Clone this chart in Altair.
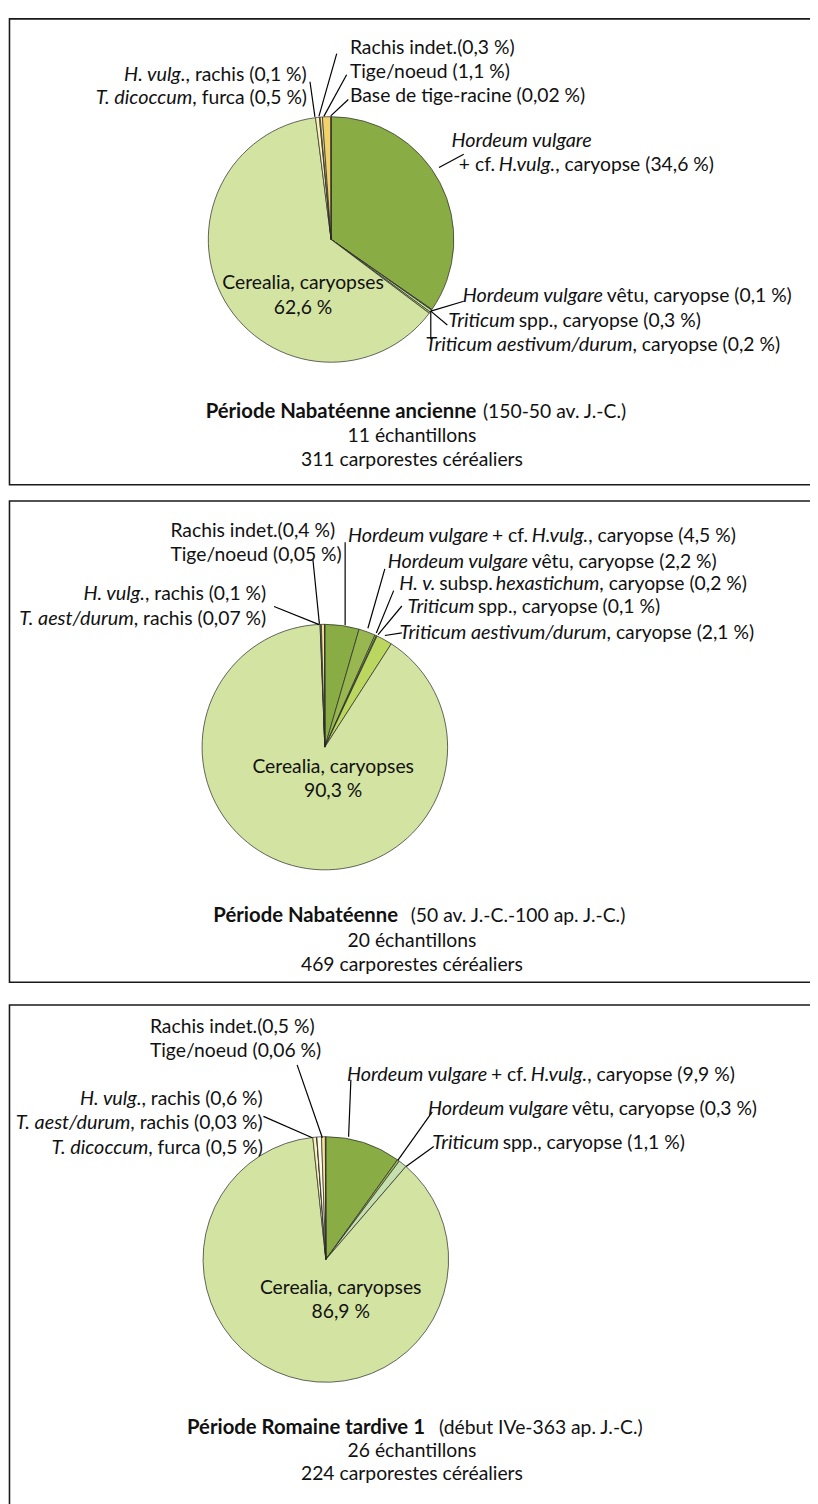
import altair as alt
import pandas as pd

# ---------------- data ----------------
CAT_ORDER = [
    "Hordeum vulgare + cf. H.vulg., caryopse",
    "Hordeum vulgare vêtu, caryopse",
    "H. v. subsp. hexastichum, caryopse",
    "Triticum spp., caryopse",
    "Triticum aestivum/durum, caryopse",
    "Cerealia, caryopses",
    "T. dicoccum, furca",
    "T. aest/durum, rachis",
    "H. vulg., rachis",
    "Rachis indet.",
    "Tige/noeud",
    "Base de tige-racine",
]

P1_CATS = ["Hordeum vulgare + cf. H.vulg., caryopse", "Hordeum vulgare vêtu, caryopse",
           "Triticum spp., caryopse", "Triticum aestivum/durum, caryopse", "Cerealia, caryopses",
           "T. dicoccum, furca", "H. vulg., rachis", "Rachis indet.", "Tige/noeud",
           "Base de tige-racine"]
P1_VALS = [34.6, 0.1, 0.3, 0.2, 62.6, 0.5, 0.1, 0.3, 1.1, 0.02]

P2_CATS = ["Hordeum vulgare + cf. H.vulg., caryopse", "Hordeum vulgare vêtu, caryopse",
           "H. v. subsp. hexastichum, caryopse", "Triticum spp., caryopse",
           "Triticum aestivum/durum, caryopse", "Cerealia, caryopses",
           "T. aest/durum, rachis", "H. vulg., rachis", "Rachis indet.", "Tige/noeud"]
P2_VALS = [4.5, 2.2, 0.2, 0.1, 2.1, 90.3, 0.07, 0.1, 0.4, 0.05]

P3_CATS = ["Hordeum vulgare + cf. H.vulg., caryopse", "Hordeum vulgare vêtu, caryopse",
           "Triticum spp., caryopse", "Cerealia, caryopses", "T. dicoccum, furca",
           "T. aest/durum, rachis", "H. vulg., rachis", "Rachis indet.", "Tige/noeud"]
P3_VALS = [9.9, 0.3, 1.1, 86.9, 0.5, 0.03, 0.6, 0.5, 0.06]

# ---------------- styles ----------------
CAT_COLORS = ["#8aac45", "#98b750", "#a9c85e", "#c6dfae", "#bcd75f", "#d3e3a1",
              "#fcf3b8", "#d9b56c", "#fffbea", "#f6e49a", "#f2d36b", "#c9a650"]

FONT = "Lato"
FS = 19.5      # regular label text
FS_I = 20      # italic label text
FS_B = 20.5    # bold title text
OFF = 8
W, H = 810, 1496
R = 124
MID_GAP = 4.5  # extra room before an italic run inside a label

# approximate advance widths (em) used only to butt text runs together
_W = {' ': .193, '.': .21, ',': .21, '(': .30, ')': .30, '%': .78, '+': .58, '/': .36,
      '-': .34, 'a': .49, 'b': .55, 'c': .46, 'd': .55, 'e': .51, 'f': .31, 'g': .50,
      'h': .55, 'i': .24, 'k': .50, 'l': .24, 'm': .83, 'n': .55, 'o': .55, 'p': .55,
      'r': .36, 's': .42, 't': .34, 'u': .55, 'v': .50, 'x': .48, 'y': .50, 'ê': .51,
      'H': .74, 'T': .57}


def tw(text, italic):
    em = sum(_W.get(ch, .58) for ch in text)
    return em * (0.93 * FS_I if italic else FS)


# ---------------- layout (page pixel coordinates) ----------------
CENTERS = [(334.3, 234.3), (328.0, 747.0), (329.0, 1264.5)]
BOXES = [(9.5, 11.5, 840, 482), (9.5, 498.5, 840, 984.5), (9.5, 1007.5, 840, 1520)]

# simple (single style) texts: (text, style, x, y); n=normal left, b=bold left, c=centered
PLAIN = [
    ("Rachis indet.(0,3 %)", "n", 353.3, 40.5),
    ("Tige/noeud (1,1 %)", "n", 353.3, 65.3),
    ("Base de tige-racine (0,02 %)", "n", 353.3, 89.5),
    ("Cerealia, caryopses", "c", 306.0, 278.5), ("62,6 %", "c", 306.0, 303.3),
    ("Période Nabatéenne ancienne", "b", 207.6, 408.3),
    ("(150-50 av. J.-C.)", "n", 487.7, 408.3),
    ("11 échantillons", "c", 416.0, 432.7),
    ("311 carporestes céréaliers", "c", 416.0, 456.7),
    ("Rachis indet.(0,4 %)", "n", 172.0, 529.0),
    ("Tige/noeud (0,05 %)", "n", 172.0, 552.7),
    ("Cerealia, caryopses", "c", 336.4, 767.3), ("90,3 %", "c", 336.4, 791.7),
    ("Période Nabatéenne", "b", 215.4, 917.7),
    ("(50 av. J.-C.-100 ap. J.-C.)", "n", 414.7, 917.7),
    ("20 échantillons", "c", 416.0, 942.7),
    ("469 carporestes céréaliers", "c", 416.0, 967.3),
    ("Rachis indet.(0,5 %)", "n", 151.3, 1030.0),
    ("Tige/noeud (0,06 %)", "n", 151.3, 1054.0),
    ("Cerealia, caryopses", "c", 344.0, 1293.5), ("86,9 %", "c", 344.0, 1318.0),
    ("Période Romaine tardive 1", "b", 188.8, 1434.3),
    ("(début IVe-363 ap. J.-C.)", "n", 443.4, 1434.3),
    ("26 échantillons", "c", 416.0, 1457.7),
    ("224 carporestes céréaliers", "c", 416.0, 1481.7),
]

# mixed italic/regular labels: (runs, anchor, x, y); anchor 'L' = starts at x, 'R' = ends at x
MIXED = [
    # panel 1
    ([("Hordeum vulgare", "i")], "L", 459.3, 135.0),
    ([("+ cf. ", "n"), ("H.vulg.", "i"), (", caryopse (34,6 %)", "n")], "L", 463.3, 159.3),
    ([("Hordeum vulgare", "i"), (" vêtu, caryopse (0,1 %)", "n")], "L", 470.7, 291.7),
    ([("Triticum", "i"), (" spp., caryopse (0,3 %)", "n")], "L", 453.3, 316.7),
    ([("Triticum aestivum/durum", "i"), (", caryopse (0,2 %)", "n")], "L", 436.7, 340.7),
    ([("H. vulg.", "i"), (", rachis (0,1 %)", "n")], "R", 305.5, 68.3),
    ([("T. dicoccum", "i"), (", furca (0,5 %)", "n")], "R", 305.5, 91.7),
    # panel 2
    ([("Hordeum vulgare", "i"), (" + cf. ", "n"), ("H.vulg.", "i"),
      (", caryopse (4,5 %)", "n")], "L", 354.7, 534.3),
    ([("Hordeum vulgare", "i"), (" vêtu, caryopse (2,2 %)", "n")], "L", 394.9, 560.0),
    ([("H. v.", "i"), (" subsp. ", "n"), ("hexastichum", "i"),
      (", caryopse (0,2 %)", "n")], "L", 405.3, 582.7),
    ([("Triticum", "i"), (" spp., caryopse (0,1 %)", "n")], "L", 412.1, 605.3),
    ([("Triticum aestivum/durum", "i"), (", caryopse (2,1 %)", "n")], "L", 410.5, 631.7),
    ([("H. vulg.", "i"), (", rachis (0,1 %)", "n")], "R", 264.5, 592.7),
    ([("T. aest/durum", "i"), (", rachis (0,07 %)", "n")], "R", 264.5, 617.3),
    # panel 3
    ([("Hordeum vulgare", "i"), (" + cf. ", "n"), ("H.vulg.", "i"),
      (", caryopse (9,9 %)", "n")], "L", 353.7, 1078.3),
    ([("Hordeum vulgare", "i"), (" vêtu, caryopse (0,3 %)", "n")], "L", 435.6, 1112.7),
    ([("Triticum", "i"), (" spp., caryopse (1,1 %)", "n")], "L", 437.1, 1147.3),
    ([("H. vulg.", "i"), (", rachis (0,6 %)", "n")], "R", 261.0, 1102.7),
    ([("T. aest/durum", "i"), (", rachis (0,03 %)", "n")], "R", 261.0, 1126.7),
    ([("T. dicoccum", "i"), (", furca (0,5 %)", "n")], "R", 261.0, 1151.7),
]

# leader lines (page coords)
LEADERS = [
    (313.0, 75.0, 318.0, 110.5), (340.0, 46.7, 322.0, 110.0), (350.0, 68.0, 327.0, 110.0),
    (351.7, 93.0, 334.0, 109.5), (443.3, 161.7, 468.3, 148.3),
    (435.0, 306.7, 468.3, 296.7), (435.0, 306.7, 451.7, 320.7), (435.0, 306.7, 435.0, 335.0),
    (276.7, 605.0, 322.3, 623.3), (316.0, 558.0, 322.5, 622.5), (348.5, 540.0, 348.5, 624.0),
    (388.6, 567.0, 371.5, 627.0), (397.5, 589.0, 380.0, 631.7), (405.8, 604.5, 381.8, 633.3),
    (405.8, 631.7, 388.6, 634.3),
    (300.0, 1068.0, 325.5, 1141.5), (354.3, 1083.0, 352.0, 1140.5),
    (266.0, 1120.0, 315.3, 1141.5), (436.5, 1115.5, 401.7, 1164.5),
    (438.0, 1150.5, 410.0, 1170.5),
]

# ---------------- build text rows ----------------
rows = []
for t, s, x, y in PLAIN:
    rows.append({"t": t, "s": s, "x": x - OFF, "y": y - OFF})

for runs, anchor, x, y in MIXED:
    extra = MID_GAP * sum(1 for k, (t, s) in enumerate(runs) if s == "i" and k > 0)
    total = sum(tw(t, s == "i") for t, s in runs) + extra
    pos = x if anchor == "L" else x - total
    for k, (t, s) in enumerate(runs):
        w = tw(t, s == "i")
        lead = len(t) - len(t.lstrip(" "))
        vis = t.strip(" ")
        if s == "i":
            if k > 0:
                pos += MID_GAP
            # italic runs are right-aligned at their end so they never run into the next run
            end = pos + w - (len(t) - len(t.rstrip(" "))) * _W[' '] * FS
            rows.append({"t": vis, "s": "ir", "x": end - OFF, "y": y - OFF})
        else:
            rows.append({"t": vis, "s": "n", "x": pos + lead * _W[' '] * FS - OFF, "y": y - OFF})
        pos += w

seg_df = pd.DataFrame(rows)

# ---------------- build chart ----------------
color_scale = alt.Scale(domain=CAT_ORDER, range=CAT_COLORS)


def pie(cats, vals, center):
    df = pd.DataFrame({"cat": cats, "v": vals, "ord": list(range(len(cats)))})
    return alt.Chart(df).mark_arc(outerRadius=R, stroke="#262626", strokeWidth=0.7).encode(
        theta=alt.Theta("v:Q", stack=True),
        order=alt.Order("ord:Q"),
        color=alt.Color("cat:N", scale=color_scale, legend=None),
        x=alt.value(center[0] - OFF),
        y=alt.value(center[1] - OFF),
    )


box_df = pd.DataFrame([{"x": b[0] - OFF, "y": b[1] - OFF, "x2": b[2] - OFF, "y2": b[3] - OFF}
                       for b in BOXES])
boxes = alt.Chart(box_df).mark_rect(fill=None, stroke="#1a1a1a", strokeWidth=1.6).encode(
    x=alt.X("x:Q", scale=None, axis=None), x2="x2:Q",
    y=alt.Y("y:Q", scale=None, axis=None), y2="y2:Q")

lead_df = pd.DataFrame([{"x": l[0] - OFF, "y": l[1] - OFF, "x2": l[2] - OFF, "y2": l[3] - OFF}
                        for l in LEADERS])
leaders = alt.Chart(lead_df).mark_rule(color="#000000", strokeWidth=1.2).encode(
    x=alt.X("x:Q", scale=None, axis=None), x2="x2:Q",
    y=alt.Y("y:Q", scale=None, axis=None), y2="y2:Q")


def text_layer(style, **kw):
    return alt.Chart(seg_df).transform_filter(alt.datum.s == style).mark_text(
        font=FONT, baseline="middle", color="#111111", **kw).encode(
        x=alt.X("x:Q", scale=None, axis=None),
        y=alt.Y("y:Q", scale=None, axis=None),
        text="t:N")


texts = [
    text_layer("n", align="left", fontSize=FS),
    text_layer("ir", align="right", fontSize=FS_I, fontStyle="italic"),
    text_layer("b", align="left", fontSize=FS_B, fontWeight="bold"),
    text_layer("c", align="center", fontSize=FS),
]

chart = alt.layer(
    boxes,
    pie(P1_CATS, P1_VALS, CENTERS[0]),
    pie(P2_CATS, P2_VALS, CENTERS[1]),
    pie(P3_CATS, P3_VALS, CENTERS[2]),
    leaders,
    *texts,
).resolve_scale(theta="independent").properties(
    width=W, height=H, autosize="none", padding=0, background="white"
).configure_view(stroke=None)

chart.save("out.html", embed_options={"renderer": "svg", "actions": False})
